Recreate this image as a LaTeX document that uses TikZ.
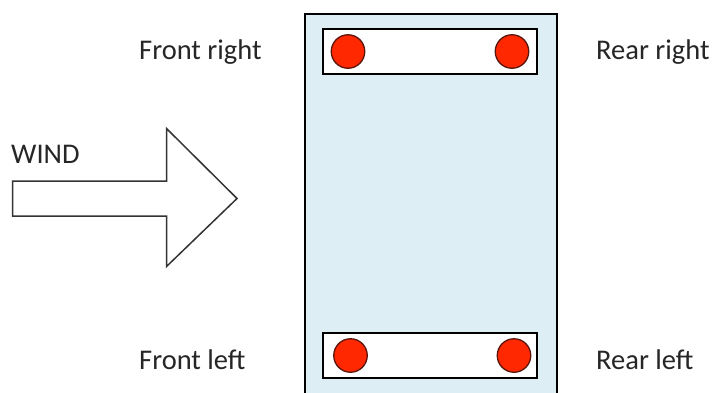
\documentclass[tikz,border=0pt]{standalone}
\usepackage{fontspec}
\setmainfont{Carlito}
\begin{document}
\begin{tikzpicture}[x=1pt,y=-1pt,
  lbl/.style={font=\fontsize{28.5}{31}\selectfont, text=black!85, inner sep=0pt, anchor=west},
  axle/.style={draw=black, line width=2pt, fill=white},
  wheel/.style={circle, draw={rgb,255:red,90;green,20;blue,10}, line width=1.3pt, fill={rgb,255:red,255;green,40;blue,0}, minimum size=33.5pt, inner sep=0pt}]
\useasboundingbox (0,0) rectangle (712,392);
\clip (0,0) rectangle (712,392);
\fill[white] (0,0) rectangle (712,392);
% body
\draw[line width=2pt, fill={rgb,255:red,222;green,238;blue,245}] (305,13.5) rectangle (556.5,410);
\node[axle, minimum width=214pt, minimum height=45pt, inner sep=0pt] (frontaxle) at (430,51.5) {};
\node[axle, minimum width=214pt, minimum height=45pt, inner sep=0pt] (rearaxle) at (430,355.5) {};
\node[wheel] (fr) at (348,51.5) {};
\node[wheel] (rr) at (512,51.5) {};
\node[wheel] (fl) at (350.5,355.5) {};
\node[wheel] (rl) at (514,355.5) {};
% arrow
\draw[line width=1.5pt, draw=black!80, fill=white, line join=miter]
  (12.5,181) -- (166.5,181) -- (166.5,128.5) -- (237,198.5) -- (166.5,266.5) -- (166.5,216) -- (12.5,216) -- cycle;
% labels
\node[lbl] (wind) at (11,154.5) {WIND};
\node[lbl] (tfr) at (139,52) {Front right};
\node[lbl] (trr) at (596,52) {Rear right};
\node[lbl] (tfl) at (139,359.5) {Front left};
\node[lbl] (trl) at (596,359.5) {Rear left};
\end{tikzpicture}
\end{document}
